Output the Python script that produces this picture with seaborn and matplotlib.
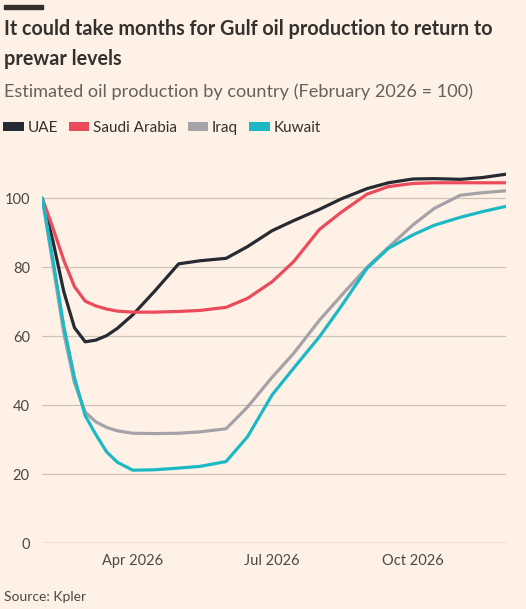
import pandas as pd
import numpy as np
import matplotlib
matplotlib.use("Agg")
import matplotlib.pyplot as plt
import matplotlib.dates as mdates
from matplotlib.patches import Patch, Rectangle
import seaborn as sns

# Values (February 2026 = 100)
dates = ["2026-02-01", "2026-02-08", "2026-02-15", "2026-02-22", "2026-03-01",
         "2026-03-08", "2026-03-15", "2026-03-22", "2026-04-01", "2026-04-15",
         "2026-05-01", "2026-05-15", "2026-06-01", "2026-06-15", "2026-07-01",
         "2026-07-15", "2026-08-01", "2026-08-15", "2026-09-01", "2026-09-15",
         "2026-10-01", "2026-10-15", "2026-11-01", "2026-11-15", "2026-12-01"]

uae = [100, 87.5, 73.0, 62.5, 58.4, 58.9, 60.2, 62.3, 66.2, 72.9,
       81.0, 81.9, 82.6, 86.0, 90.6, 93.5, 96.8, 99.8, 102.8, 104.5,
       105.6, 105.7, 105.5, 106.0, 107.0]
saudi = [100, 91.3, 82.1, 74.4, 70.2, 68.8, 67.9, 67.3, 67.0, 67.0,
         67.2, 67.5, 68.4, 71.0, 75.8, 81.6, 91.0, 95.9, 101.2, 103.4,
         104.3, 104.5, 104.5, 104.5, 104.5]
iraq = [100, 80.5, 61.0, 46.5, 38.0, 35.2, 33.6, 32.6, 31.9, 31.8,
        31.9, 32.3, 33.2, 39.5, 48.1, 55.0, 64.7, 71.7, 80.0, 85.8,
        92.3, 97.1, 100.9, 101.6, 102.2]
kuwait = [100, 82.0, 63.0, 48.0, 37.0, 31.5, 26.5, 23.5, 21.2, 21.3,
          21.8, 22.3, 23.7, 30.9, 43.0, 50.7, 59.9, 68.6, 79.7, 85.5,
          89.4, 92.2, 94.5, 96.1, 97.7]

countries = ["UAE", "Saudi Arabia", "Iraq", "Kuwait"]
colors = ["#262A33", "#EB4B5C", "#A5A2A8", "#1DB8C6"]

df = pd.DataFrame({"date": pd.to_datetime(dates), "UAE": uae, "Saudi Arabia": saudi,
                   "Iraq": iraq, "Kuwait": kuwait})
long_df = df.melt(id_vars="date", var_name="country", value_name="value")

bg = "#FFF1E5"
sns.set_style("white")
plt.rcParams['font.family'] = ['Lato', 'DejaVu Sans']

W, H = 526, 609
fig = plt.figure(figsize=(W / 100, H / 100), dpi=100, facecolor=bg)
ax = fig.add_axes([42.3 / W, (H - 543.3) / H, (506.4 - 42.3) / W, (110 * 3.45) / H])
ax.set_facecolor(bg)

sns.lineplot(data=long_df, x="date", y="value", hue="country", hue_order=countries,
             palette=colors, linewidth=2.3, legend=False, ax=ax)
for line in ax.get_lines():
    line.set_solid_joinstyle("round")
    line.set_solid_capstyle("round")

ax.set_xlim(pd.Timestamp("2026-02-01"), pd.Timestamp("2026-12-01"))
ax.set_ylim(0, 110)
ax.set_yticks([0, 20, 40, 60, 80, 100])
ax.grid(axis="y", color="#CDC3B8", linewidth=0.9)
ax.axhline(0, color="#B8AEA4", linewidth=1.0)
for s in ax.spines.values():
    s.set_visible(False)

ax.xaxis.set_major_locator(mdates.MonthLocator(bymonth=[4, 7, 10]))
ax.xaxis.set_major_formatter(mdates.DateFormatter("%b %Y"))
ax.tick_params(axis="x", length=5, width=0.9, color="#B8AEA4", pad=3,
               labelsize=10.5, labelcolor="#4D4845")
ax.tick_params(axis="y", length=0, pad=9, labelsize=10.5, labelcolor="#4D4845")
ax.set_xlabel("")
ax.set_ylabel("")

# Header
fig.add_artist(Rectangle((4 / W, 1 - 8.5 / H), 39 / W, 3.3 / H,
                         transform=fig.transFigure, color="#33302E"))
fig.text(4 / W, 1 - 35 / H, "It could take months for Gulf oil production to return to",
         fontsize=14.2, fontweight="bold", color="#33302E", va="baseline")
fig.text(4 / W, 1 - 65 / H, "prewar levels",
         fontsize=14.2, fontweight="bold", color="#33302E", va="baseline")
fig.text(4 / W, 1 - 97 / H, "Estimated oil production by country (February 2026 = 100)",
         fontsize=13.1, color="#66605C", va="baseline")

handles = [Patch(facecolor=c, edgecolor="none", label=n) for n, c in zip(countries, colors)]
fig.legend(handles=handles, loc="center left", bbox_to_anchor=(3 / W, 1 - 128 / H),
           ncol=4, frameon=False, fontsize=11, handlelength=1.35, handleheight=0.55,
           handletextpad=0.25, columnspacing=0.7, borderpad=0, borderaxespad=0,
           labelcolor="#33302E")

fig.text(4 / W, 1 - 597 / H, "Source: Kpler", fontsize=10, color="#4D4845", va="center")

fig.savefig("out.png", dpi=100, facecolor=bg)
